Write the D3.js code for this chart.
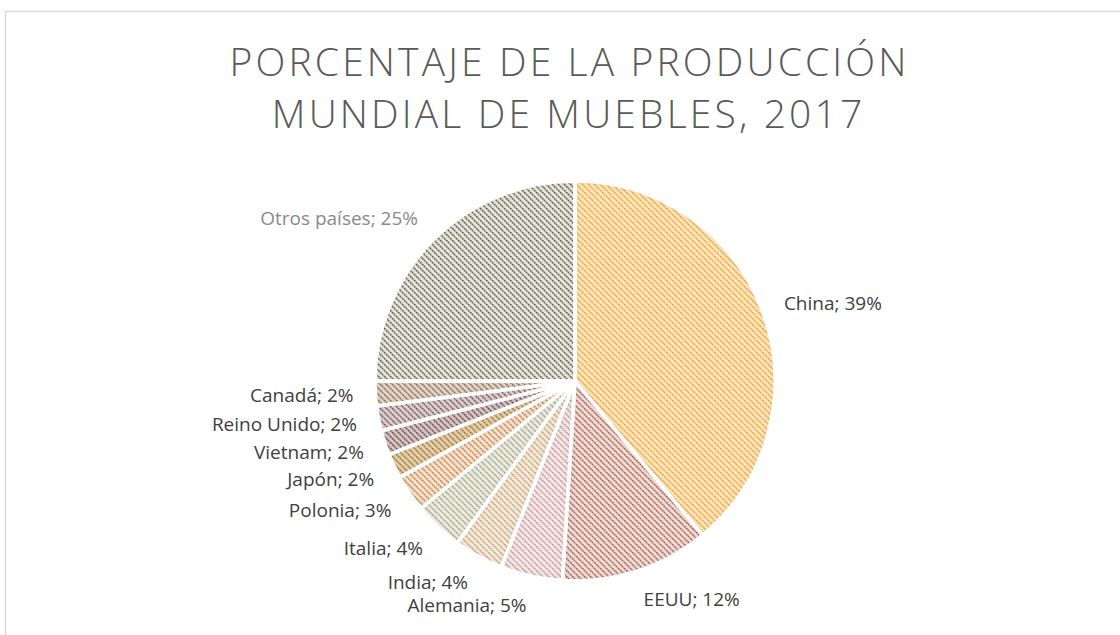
<!DOCTYPE html>
<html><head><meta charset="utf-8">
<script src="https://cdn.jsdelivr.net/npm/d3@7"></script>
<style>body{margin:0;background:#fff}svg{display:block}</style>
</head><body>
<svg id="c" width="1120" height="635"></svg>
<script>
const categories = ["China","EEUU","Alemania","India","Italia","Polonia","Japón","Vietnam","Reino Unido","Canadá","Otros países"];
const values = [39,12,5,4,4,3,2,2,2,2,25];
const titleLines = ["PORCENTAJE DE LA PRODUCCIÓN","MUNDIAL DE MUEBLES, 2017"];
const fgColors = ["#ee9f2e","#a25446","#c6908e","#c69e6c","#a09e84","#c07a38","#9e6e26","#643e3e","#704a4a","#806250","#525242"];
const bgColors = ["#fde6bd","#eedcd6","#f4e8e8","#f4eadc","#ecebe0","#f5e2d0","#e4d0ae","#d6c6c6","#ddcfcf","#e2d4c6","#e6e5da"];

const svg = d3.select("#c");
const W = 1120, H = 635;
svg.append("rect").attr("x",5.5).attr("y",11.5).attr("width",W).attr("height",H)
  .attr("fill","#fff").attr("stroke","#d9d9d9").attr("stroke-width",1.5);

const defs = svg.append("defs");
categories.forEach((c,i)=>{
  const p = defs.append("pattern").attr("id","pat"+i).attr("patternUnits","userSpaceOnUse")
    .attr("width",6).attr("height",6);
  p.append("rect").attr("width",6).attr("height",6).attr("fill",bgColors[i]);
  p.append("path").attr("d","M-1,-1 L7,7 M-4,2 L4,10 M2,-4 L10,4")
    .attr("stroke",fgColors[i]).attr("stroke-width",1.6).attr("stroke-opacity",0.85)
    .attr("stroke-dasharray","2.2,0.6");
});
// inner shadow filter
const f = defs.append("filter").attr("id","inner").attr("x","-10%").attr("y","-10%").attr("width","120%").attr("height","120%");
f.append("feComponentTransfer").attr("in","SourceAlpha").attr("result","inv")
  .append("feFuncA").attr("type","table").attr("tableValues","1 0");
f.append("feGaussianBlur").attr("in","inv").attr("stdDeviation",4).attr("result","blur");
f.append("feFlood").attr("flood-color","#000").attr("flood-opacity",0.2).attr("result","col");
f.append("feComposite").attr("in","col").attr("in2","blur").attr("operator","in").attr("result","sh");
f.append("feComposite").attr("in","sh").attr("in2","SourceAlpha").attr("operator","in").attr("result","shIn");
const m = f.append("feMerge");
m.append("feMergeNode").attr("in","SourceGraphic");
m.append("feMergeNode").attr("in","shIn");

// Title
const title = svg.append("g").attr("font-family","'Open Sans', sans-serif").attr("font-weight",300)
  .attr("font-size",39).attr("fill","#595959").attr("text-anchor","middle");
const t1 = title.append("text").attr("x",568).attr("y",76).text(titleLines[0]);
const t2 = title.append("text").attr("x",567).attr("y",128).text(titleLines[1]);
const targetW = 680;
const w0 = t1.node().getComputedTextLength();
const ls = (targetW - w0) / (titleLines[0].length);
title.selectAll("text").attr("letter-spacing",ls+"px");
t1.attr("dx", ls/2); t2.attr("dx", ls/2);

// Pie
const cx = 575, cy = 381, r = 200;
const pie = d3.pie().sort(null).value(d=>d);
const arcs = pie(values);
const arc = d3.arc().innerRadius(0).outerRadius(r);
const g = svg.append("g").attr("transform",`translate(${cx},${cy})`);
g.selectAll("path.slice").data(arcs).join("path").attr("class","slice")
  .attr("d",arc).attr("fill",(d,i)=>`url(#pat${i})`).attr("filter","url(#inner)");
g.selectAll("path.sep").data(arcs).join("path").attr("class","sep")
  .attr("d",arc).attr("fill","none")
  .attr("stroke","#fff").attr("stroke-width",3.5).attr("stroke-linejoin","round");

// Labels
const R = 222;
g.selectAll("text.lbl").data(arcs).join("text").attr("class","lbl")
  .each(function(d,i){
    const a = (d.startAngle+d.endAngle)/2;
    const s = Math.sin(a), c = Math.cos(a);
    const x = R*s, y = -R*c - c*8;
    d3.select(this).attr("x",x).attr("y",y).attr("dy","0.35em")
      .attr("text-anchor", s>=0 ? "start":"end")
      .text(`${categories[i]}; ${values[i]}%`);
  })
  .attr("font-family","'Open Sans', sans-serif").attr("font-size",19)
  .attr("fill",(d,i)=> i===categories.length-1 ? "#8a8a8a" : "#404040");
</script>
</body></html>
